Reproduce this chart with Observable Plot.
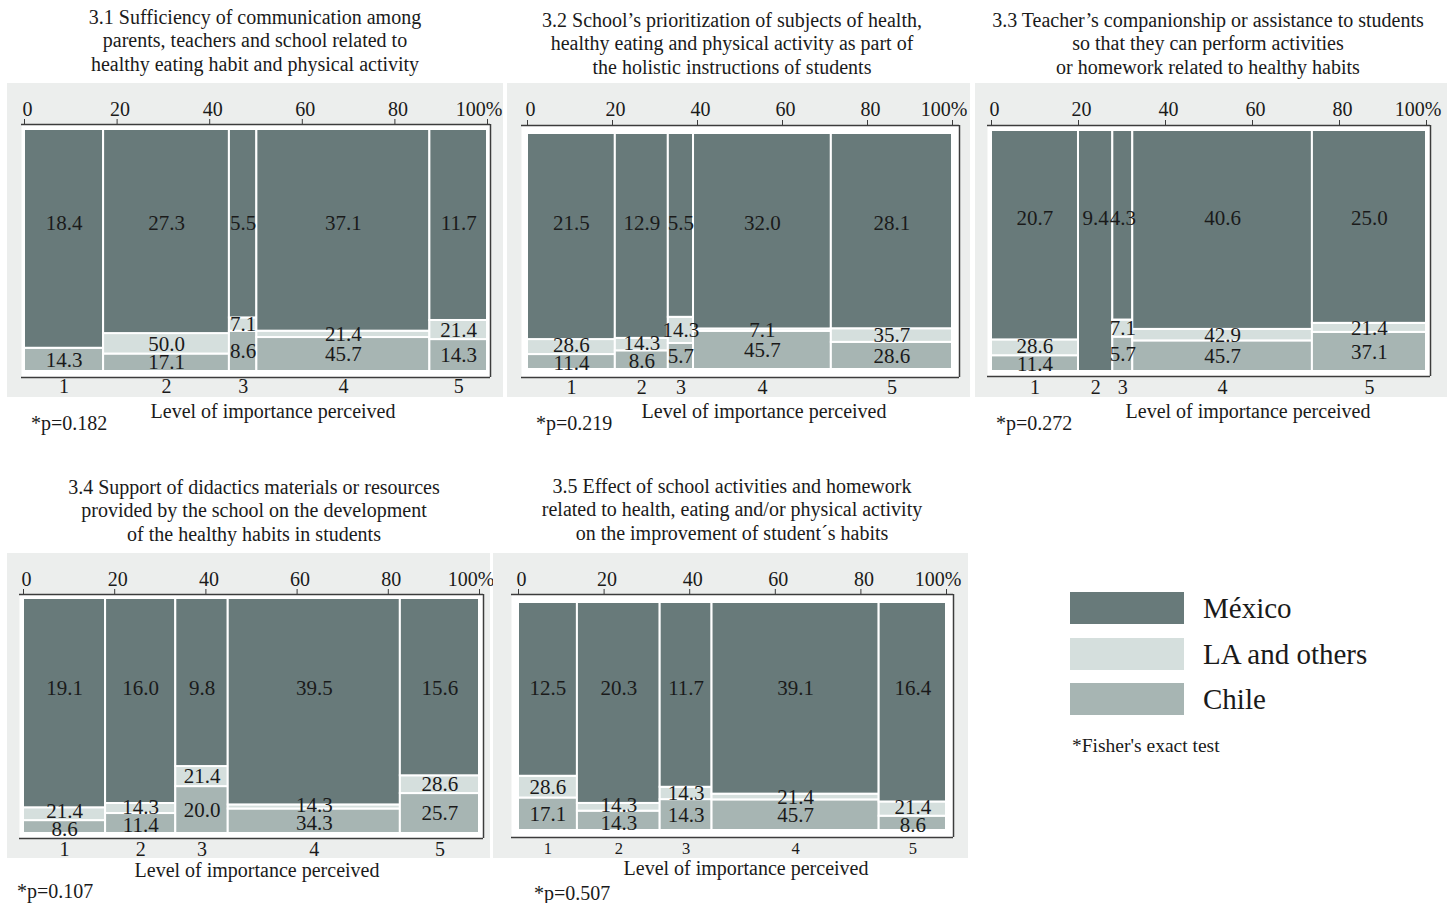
<!DOCTYPE html>
<html>
<head>
<meta charset="utf-8">
<script src="https://cdn.jsdelivr.net/npm/d3@7"></script>
<script src="https://cdn.jsdelivr.net/npm/@observablehq/plot@0.6"></script>
<style>
  body { margin: 0; background: #ffffff; }
  #page { position: relative; width: 1455px; height: 903px; overflow: hidden;
          font-family: "Liberation Serif", "Times New Roman", serif; color: #1a1a1a; }
  .txt { position: absolute; white-space: nowrap; }
  .bg { position: absolute; background: #eceeed; }
  .plot { position: absolute; }
  .swatch { position: absolute; }
</style>
</head>
<body>
<div id="page"></div>
<script>
// ---- categories and groups ----
const levels = [1, 2, 3, 4, 5];
const groups = ["México", "LA and others", "Chile"];
const groupColors = ["#687a7a", "#d5dfdd", "#a7b5b3"];
const groupSize = [256, 14, 35];            // respondents in each group
const stackOrder = ["Chile", "LA and others", "México"]; // bottom to top
const axisTicks = [0, 20, 40, 60, 80, 100];

// ---- percentages of each group per level of importance ----
const q31Mexico = [18.4, 27.3, 5.5, 37.1, 11.7];
const q31LA     = [0, 50.0, 7.1, 21.4, 21.4];
const q31Chile  = [14.3, 17.1, 8.6, 45.7, 14.3];

const q32Mexico = [21.5, 12.9, 5.5, 32.0, 28.1];
const q32LA     = [28.6, 14.3, 14.3, 7.1, 35.7];
const q32Chile  = [11.4, 8.6, 5.7, 45.7, 28.6];

const q33Mexico = [20.7, 9.4, 4.3, 40.6, 25.0];
const q33LA     = [28.6, 0, 7.1, 42.9, 21.4];
const q33Chile  = [11.4, 0, 5.7, 45.7, 37.1];

const q34Mexico = [19.1, 16.0, 9.8, 39.5, 15.6];
const q34LA     = [21.4, 14.3, 21.4, 14.3, 28.6];
const q34Chile  = [8.6, 11.4, 20.0, 34.3, 25.7];

const q35Mexico = [12.5, 20.3, 11.7, 39.1, 16.4];
const q35LA     = [28.6, 14.3, 14.3, 21.4, 21.4];
const q35Chile  = [17.1, 14.3, 14.3, 45.7, 8.6];

const titles = [
  ["3.1 Sufficiency of communication among", "parents, teachers and school related to", "healthy eating habit and physical activity"],
  ["3.2 School\u2019s prioritization of subjects of health,", "healthy eating and physical activity as part of", "the holistic instructions of students"],
  ["3.3 Teacher\u2019s companionship or assistance to students", "so that they can perform activities", "or homework related to healthy habits"],
  ["3.4 Support of didactics materials or resources", "provided by the school on the development", "of the healthy habits in students"],
  ["3.5 Effect of school activities and homework", "related to health, eating and/or physical activity", "on the improvement of student\u00b4s habits"]
];
const pValues = ["0.182", "0.219", "0.272", "0.107", "0.507"];
const xLabel = "Level of importance perceived";
const footnote = "*Fisher's exact test";

const panelData = [
  [q31Mexico, q31LA, q31Chile],
  [q32Mexico, q32LA, q32Chile],
  [q33Mexico, q33LA, q33Chile],
  [q34Mexico, q34LA, q34Chile],
  [q35Mexico, q35LA, q35Chile]
];

// ---- page layout of the five panels (pixels) ----
const layout = [
  {bg: [7, 83, 496, 314], tick0: 24, tick100: 487, frameL: 21, frameR: 490, axisY: 124, barTop: 129, barBottom: 371, frameBottom: 377,
   tickBase: 115, levelBase: 392, levelSize: 20, mexLabel: 61.2, titleX: 255, titleBase: 24, xlabX: 273, xlabBase: 418, pX: 31, pBase: 430},
  {bg: [507, 83, 463, 314], tick0: 527, tick100: 952, frameL: 521, frameR: 959, axisY: 125, barTop: 133, barBottom: 369, frameBottom: 377,
   tickBase: 115, levelBase: 393, levelSize: 20, mexLabel: 61.9, titleX: 732, titleBase: 27, xlabX: 764, xlabBase: 418, pX: 536, pBase: 430},
  {bg: [975, 83, 472, 314], tick0: 991, tick100: 1426, frameL: 987, frameR: 1430, axisY: 125, barTop: 130, barBottom: 371, frameBottom: 376,
   tickBase: 115, levelBase: 393, levelSize: 20, mexLabel: 63.5, titleX: 1208, titleBase: 27, xlabX: 1248, xlabBase: 418, pX: 996, pBase: 430},
  {bg: [7, 553, 483, 305], tick0: 23, tick100: 479, frameL: 19, frameR: 483, axisY: 594, barTop: 598, barBottom: 833, frameBottom: 838,
   tickBase: 585, levelBase: 855, levelSize: 20, mexLabel: 61.7, titleX: 254, titleBase: 494, xlabX: 257, xlabBase: 877, pX: 17, pBase: 898},
  {bg: [493, 553, 475, 305], tick0: 518, tick100: 946, frameL: 511, frameR: 953, axisY: 594, barTop: 602, barBottom: 830, frameBottom: 837,
   tickBase: 585, levelBase: 853, levelSize: 16.5, mexLabel: 62.3, titleX: 732, titleBase: 493, xlabX: 746, xlabBase: 875, pX: 534, pBase: 900}
];

const FONT = "Liberation Serif, Times New Roman, serif";
const INK = "#1a1a1a";
const LINE = "#3c3c3c";
const LABEL_GAP = 18;      // minimum vertical distance (px) between stacked labels in a column

const page = document.getElementById("page");

// Place HTML text so that its first baseline lands at `baseline`.
function placeText(lines, {x, baseline, size = 20, lh = 23.5, align = "left"}) {
  const d = document.createElement("div");
  d.className = "txt";
  d.style.fontSize = size + "px";
  d.style.lineHeight = lh + "px";
  d.style.top = (baseline - ((lh - 1.107 * size) / 2 + 0.891 * size)) + "px";
  if (align === "center") {
    d.style.left = (x - 400) + "px";
    d.style.width = "800px";
    d.style.textAlign = "center";
  } else {
    d.style.left = x + "px";
  }
  [].concat(lines).forEach((t, i) => {
    if (i) d.appendChild(document.createElement("br"));
    d.appendChild(document.createTextNode(t));
  });
  page.appendChild(d);
}

// Spine (mosaic) geometry: column widths from level totals, heights from group shares.
function mosaic(series, mexLabel, minGap) {
  const counts = series.map((pcts, g) => pcts.map(p => p * groupSize[g] / 100));
  const cols = levels.map((level, i) => ({level, n: d3.sum(counts, c => c[i])}));
  const total = d3.sum(cols, c => c.n);
  let acc = 0;
  for (const c of cols) {
    c.x1 = acc / total * 100;
    acc += c.n;
    c.x2 = acc / total * 100;
    c.xm = (c.x1 + c.x2) / 2;
  }
  const segs = [];
  cols.forEach((c, i) => {
    let y = 0;
    const small = [];
    for (const g of stackOrder) {
      const gi = groups.indexOf(g);
      const h = counts[gi][i] / c.n * 100;
      if (h > 0) {
        const s = {group: g, level: c.level, x1: c.x1, x2: c.x2, xm: c.xm, y1: y, y2: y + h,
                   pct: series[gi][i], ly: g === "México" ? mexLabel : y + h / 2};
        segs.push(s);
        if (g !== "México") small.push(s);
      }
      y += h;
    }
    // spread the two lower labels when they would sit on top of each other
    if (small.length === 2 && small[1].ly - small[0].ly < minGap) {
      const mid = (small[0].ly + small[1].ly) / 2;
      small[0].ly = mid - minGap / 2;
      small[1].ly = mid + minGap / 2;
    }
  });
  return {cols, segs};
}

panelData.forEach((series, k) => {
  const L = layout[k];
  const [bx, by, bw, bh] = L.bg;

  const bg = document.createElement("div");
  bg.className = "bg";
  Object.assign(bg.style, {left: bx + "px", top: by + "px", width: bw + "px", height: bh + "px"});
  page.appendChild(bg);

  const pxX = (L.tick100 - L.tick0) / 100;
  const pxY = (L.barBottom - L.barTop) / 100;
  const {cols, segs} = mosaic(series, L.mexLabel, LABEL_GAP / pxY);

  const xDomain = [-(L.tick0 - L.frameL) / pxX, 100 + (L.frameR - L.tick100) / pxX];
  const yDomain = [-(L.frameBottom - L.barBottom) / pxY, 100 + (L.barTop - L.axisY) / pxY];
  const yTickEnd = yDomain[1] + 5 / pxY;                       // tick marks rise 5px above the frame
  const yTickText = yDomain[1] + (L.axisY - L.tickBase) / pxY; // baseline of the top tick labels

  const chart = Plot.plot({
    width: bw,
    height: bh,
    marginLeft: L.frameL - bx,
    marginRight: bx + bw - L.frameR,
    marginTop: L.axisY - by,
    marginBottom: by + bh - L.frameBottom,
    style: {fontFamily: FONT, fontSize: "20px", background: "transparent", color: INK, overflow: "visible"},
    x: {domain: xDomain, axis: null},
    y: {domain: yDomain, axis: null},
    color: {domain: groups, range: groupColors},
    marks: [
      Plot.frame({fill: "white", stroke: null}),
      Plot.rect(segs, {x1: "x1", x2: "x2", y1: "y1", y2: "y2", fill: "group", stroke: "white", strokeWidth: 2}),
      Plot.ruleY([yDomain[1]], {stroke: LINE, strokeWidth: 1.3}),
      Plot.ruleY([yDomain[0]], {stroke: LINE, strokeWidth: 1.5}),
      Plot.ruleX([xDomain[1]], {stroke: LINE, strokeWidth: 1.5}),
      Plot.ruleX(axisTicks, {x: d => d, y1: yDomain[1], y2: yTickEnd, stroke: LINE, strokeWidth: 1}),
      Plot.text(axisTicks.slice(0, -1), {x: d => d, y: yTickText, text: d => String(d), lineAnchor: "bottom",
                                          dx: 3, fontSize: 20, fill: INK}),
      Plot.text(axisTicks.slice(-1), {x: d => d, y: yTickText, text: d => d + "%", lineAnchor: "bottom",
                                      textAnchor: "end", dx: 15, fontSize: 20, fill: INK}),
      Plot.text(segs, {x: "xm", y: "ly", text: d => d.pct.toFixed(1), fontSize: 21, fill: INK}),
      Plot.text(cols, {x: "xm", text: "level", frameAnchor: "bottom", lineAnchor: "bottom",
                       dy: L.levelBase - L.frameBottom, fontSize: L.levelSize, fill: INK})
    ]
  });
  chart.classList.add("plot");
  chart.style.left = bx + "px";
  chart.style.top = by + "px";
  page.appendChild(chart);

  placeText(titles[k], {x: L.titleX, baseline: L.titleBase, align: "center"});
  placeText(xLabel, {x: L.xlabX, baseline: L.xlabBase, align: "center"});
  placeText("*p=" + pValues[k], {x: L.pX, baseline: L.pBase});
});

// ---- legend ----
const legendTop = [592, 638, 683];
groups.forEach((g, i) => {
  const s = document.createElement("div");
  s.className = "swatch";
  Object.assign(s.style, {left: "1070px", top: legendTop[i] + "px", width: "114px", height: "32px", background: groupColors[i]});
  page.appendChild(s);
  placeText(g, {x: 1203, baseline: legendTop[i] + 26, size: 29, lh: 32});
});
placeText(footnote, {x: 1072, baseline: 752, size: 19.5, lh: 23});
</script>
</body>
</html>
